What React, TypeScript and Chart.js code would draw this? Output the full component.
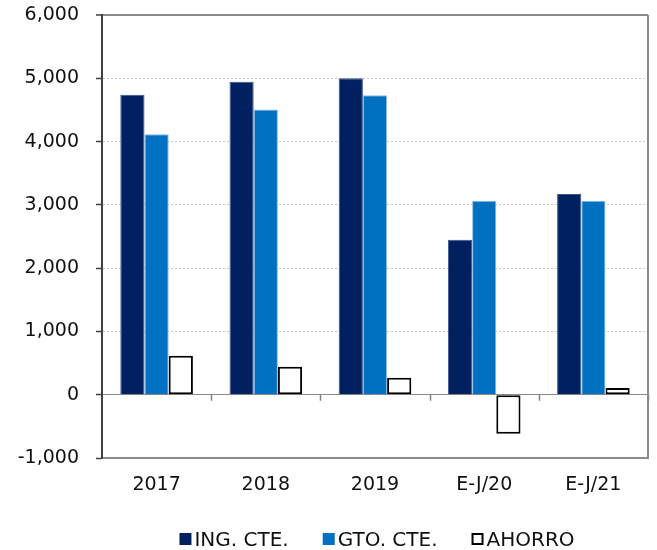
import React, { useEffect, useRef } from "react";
import { Chart, registerables } from "chart.js";

Chart.register(...registerables);

const categories = ["2017", "2018", "2019", "E-J/20", "E-J/21"];
const ingCte = [4740, 4945, 5000, 2450, 3170];
const gtoCte = [4115, 4505, 4730, 3065, 3065];
const ahorro = [615, 440, 270, -615, 105];
const seriesLabels = ["ING. CTE.", "GTO. CTE.", "AHORRO"];
const yMin = -1000;
const yMax = 6000;
const yStep = 1000;

const FONT = "'DejaVu Sans', sans-serif";

const framePlugin = {
  id: "frame",
  afterDatasetsDraw(chart: any) {
    const { ctx, chartArea, scales } = chart;
    const x = scales.x;
    const y = scales.y;
    const zeroY = y.getPixelForValue(0);
    const n = categories.length;
    const w = (x.right - x.left) / n;
    ctx.save();
    ctx.strokeStyle = "#808080";
    ctx.lineWidth = 1.5;
    ctx.beginPath();
    for (let i = 1; i <= n; i++) {
      const px = Math.round(x.left + i * w) + 0.5;
      ctx.moveTo(px, zeroY);
      ctx.lineTo(px, zeroY + 6);
    }
    ctx.stroke();
    ctx.strokeStyle = "#8a8a8a";
    ctx.lineWidth = 2;
    ctx.beginPath();
    ctx.moveTo(chartArea.right, chartArea.top);
    ctx.lineTo(chartArea.right, chartArea.bottom);
    ctx.stroke();
    ctx.restore();
  },
};

const legendStyles = [
  { fill: "#002060", stroke: null },
  { fill: "#0070C0", stroke: null },
  { fill: "#ffffff", stroke: "#000000" },
];

const legendPlugin = {
  id: "customLegend",
  afterDraw(chart: any) {
    const { ctx, chartArea } = chart;
    ctx.save();
    ctx.font = `20px ${FONT}`;
    ctx.textBaseline = "alphabetic";
    ctx.textAlign = "left";
    const box = 12;
    const gap = 3;
    const spacing = 34;
    const labels = chart.data.datasets.map((d: any) => d.label);
    const widths = labels.map((l: string) => ctx.measureText(l).width);
    const total =
      widths.reduce((a: number, b: number) => a + b + box + gap, 0) +
      spacing * (labels.length - 1);
    let cx = (chartArea.left + chartArea.right) / 2 + 2 - total / 2;
    const baseY = 546;
    labels.forEach((l: string, i: number) => {
      const st = legendStyles[i];
      ctx.fillStyle = st.fill;
      ctx.fillRect(cx, baseY - 13, box, box);
      if (st.stroke) {
        ctx.strokeStyle = st.stroke;
        ctx.lineWidth = 2;
        ctx.strokeRect(cx + 1, baseY - 12, box - 2, box - 2);
      }
      ctx.fillStyle = "#111";
      ctx.fillText(l, cx + box + gap, baseY);
      cx += box + gap + widths[i] + spacing;
    });
    ctx.restore();
  },
};

export default function App() {
  const ref = useRef<HTMLCanvasElement>(null);
  useEffect(() => {
    if (!ref.current) return;
    const chart = new Chart(ref.current, {
      type: "bar",
      data: {
        labels: categories,
        datasets: [
          {
            label: seriesLabels[0],
            data: ingCte,
            backgroundColor: "#002060",
            borderColor: "#3a5590",
            borderWidth: 1,
          },
          {
            label: seriesLabels[1],
            data: gtoCte,
            backgroundColor: "#0070C0",
            borderColor: "#8dbbe3",
            borderWidth: 1,
          },
          {
            label: seriesLabels[2],
            data: ahorro,
            backgroundColor: "#ffffff",
            borderColor: "#000000",
            borderWidth: 2,
            borderSkipped: false,
          },
        ],
      },
      options: {
        animation: false,
        responsive: false,
        layout: { padding: { top: 15, right: 9, left: 0, bottom: 42 } },
        datasets: {
          bar: { categoryPercentage: 0.665, barPercentage: 1 },
        },
        plugins: {
          legend: { display: false },
          tooltip: { enabled: false },
        },
        scales: {
          x: {
            grid: { display: false },
            border: { display: true, color: "#8a8a8a", width: 2 },
            ticks: {
              color: "#111",
              font: { family: FONT, size: 19 },
              padding: 8,
              maxRotation: 0,
            },
            afterFit: (s: any) => {
              s.height = 50;
            },
          },
          y: {
            min: yMin,
            max: yMax,
            ticks: {
              stepSize: yStep,
              color: "#111",
              font: { family: FONT, size: 19 },
              padding: 17,
              callback: (v: any) => Number(v).toLocaleString("en-US"),
            },
            grid: {
              color: (c: any) => {
                const v = c.tick ? c.tick.value : 0;
                if (v === 0 || v === yMax || v === yMin) return "#8a8a8a";
                return "#c8c8c8";
              },
              lineWidth: (c: any) => {
                const v = c.tick ? c.tick.value : 0;
                if (v === yMax) return 2;
                return 1;
              },
              tickColor: "#404040",
              tickLength: 6,
              tickWidth: 1.5,
            },
            border: {
              display: true,
              color: "#404040",
              width: 2,
              dash: (c: any) => {
                const v = c.tick ? c.tick.value : 0;
                return v > 0 && v < yMax ? [2, 2] : [];
              },
            },
            afterFit: (s: any) => {
              s.width = 102;
              s.paddingTop = 0;
              s.paddingBottom = 0;
            },
          },
        },
      },
      plugins: [framePlugin, legendPlugin],
    });
    return () => chart.destroy();
  }, []);
  return (
    <div style={{ position: "fixed", left: 0, top: 0, width: 657, height: 550, background: "#fff" }}>
      <canvas ref={ref} width={657} height={550} />
    </div>
  );
}
